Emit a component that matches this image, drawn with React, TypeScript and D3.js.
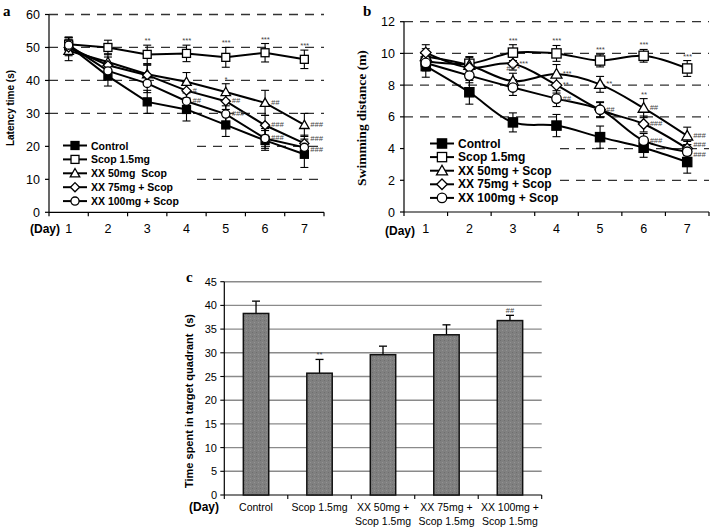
import React from "react";
import * as d3 from "d3";

// ---------- DATA ----------
const days = [1, 2, 3, 4, 5, 6, 7];
const legendA = ["Control", "Scop 1.5mg", "XX 50mg  Scop", "XX 75mg + Scop", "XX 100mg + Scop"];
const legendB = ["Control", "Scop 1.5mg", "XX 50mg + Scop", "XX 75mg + Scop", "XX 100mg + Scop"];
const markerTypes = ["squareFilled", "square", "triangle", "diamond", "circle"];

// Panel a: latency time (s)
const latControl = [50.5, 41.3, 33.5, 31.2, 26.5, 21.8, 17.6];
const latScop = [51.0, 50.0, 47.9, 48.2, 47.0, 48.4, 46.4];
const latXX50 = [49.0, 45.6, 41.9, 39.6, 36.5, 33.2, 26.5];
const latXX75 = [50.0, 44.6, 41.6, 36.9, 33.7, 26.4, 20.9];
const latXX100 = [50.7, 42.9, 39.1, 33.7, 29.8, 22.4, 19.7];
const latErrControl = [2.5, 3, 3.5, 3.5, 3.5, 3, 4];
const latErrScop = [2, 2.2, 2.8, 2.5, 3, 2.8, 2.8];
const latErrXX50 = [3, 2.5, 3, 2.8, 2.5, 3.8, 3.5];
const latErrXX75 = [2.5, 2.5, 3, 2.5, 2.5, 3, 2.5];
const latErrXX100 = [2.5, 2.5, 2.8, 2.5, 2.5, 3, 2.5];
const latTicks = [0, 10, 20, 30, 40, 50, 60];

// Panel b: swimming distance (m)
const disControl = [9.2, 7.55, 5.65, 5.45, 4.72, 4.05, 3.15];
const disScop = [9.5, 9.35, 10.05, 10.0, 9.55, 9.85, 9.05];
const disXX50 = [9.8, 9.25, 8.25, 8.7, 8.05, 6.55, 4.8];
const disXX75 = [10.05, 9.1, 9.35, 8.0, 6.45, 5.55, 4.0];
const disXX100 = [9.4, 8.6, 7.85, 7.15, 6.45, 4.5, 3.8];
const disErrControl = [0.7, 0.75, 0.6, 0.7, 0.7, 0.6, 0.7];
const disErrScop = [0.5, 0.45, 0.5, 0.5, 0.4, 0.4, 0.5];
const disErrXX50 = [0.5, 0.5, 0.5, 0.6, 0.5, 0.6, 0.55];
const disErrXX75 = [0.5, 0.45, 0.4, 0.5, 0.45, 0.5, 0.45];
const disErrXX100 = [0.5, 0.45, 0.5, 0.5, 0.5, 0.45, 0.45];
const disTicks = [0, 2, 4, 6, 8, 10, 12];

// Significance marks: [seriesIndex, day, text, placement]
const sigA: [number, number, string, string][] = [
  [1, 3, "**", "above"], [1, 4, "***", "above"], [1, 5, "***", "above"], [1, 6, "***", "above"], [1, 7, "***", "above"],
  [2, 5, "*", "above"], [2, 6, "##", "right"], [2, 7, "###", "right"],
  [3, 4, "#", "right"], [3, 5, "##", "right"], [3, 6, "###", "right"], [3, 7, "###", "rightUp"],
  [4, 4, "##", "right"], [4, 5, "###", "right"], [4, 6, "###", "right"], [4, 7, "###", "rightDown"],
];
const sigB: [number, number, string, string][] = [
  [1, 3, "***", "above"], [1, 4, "***", "above"], [1, 5, "***", "above"], [1, 6, "***", "above"], [1, 7, "***", "above"],
  [3, 3, "***", "right"], [2, 3, "##,*", "above"],
  [2, 4, "***", "right"], [3, 4, "**", "right"], [4, 4, "##", "right"],
  [2, 5, "**", "right"], [4, 5, "##", "right"],
  [2, 6, "**", "above"], [2, 6, "##", "right"], [3, 6, "###", "right"], [4, 6, "###", "right"],
  [2, 7, "###", "right"], [3, 7, "###", "rightUp"], [4, 7, "###", "rightDown"],
];

// Panel c: time in target quadrant (s)
const groupsC = [["Control"], ["Scop 1.5mg"], ["XX 50mg +", "Scop 1.5mg"], ["XX 75mg +", "Scop 1.5mg"], ["XX 100mg +", "Scop 1.5mg"]];
const valuesC = [38.3, 25.7, 29.6, 33.8, 36.8];
const errorsC = [2.6, 2.9, 1.8, 2.1, 1.1];
const sigC = ["", "**", "", "", "##"];
const ticksC = [0, 5, 10, 15, 20, 25, 30, 35, 40, 45];

const SANS = "Arial, 'Liberation Sans', sans-serif";
const SERIF = "'Times New Roman', 'Liberation Serif', serif";

function Marker({ type, x, y, s = 1 }: { type: string; x: number; y: number; s?: number }) {
  const sw = 1.3;
  if (type === "squareFilled") {
    const h = 4.2 * s;
    return <rect x={x - h} y={y - h} width={2 * h} height={2 * h} fill="#000" stroke="#000" strokeWidth={sw} />;
  }
  if (type === "square") {
    const h = 4.2 * s;
    return <rect x={x - h} y={y - h} width={2 * h} height={2 * h} fill="#fff" stroke="#000" strokeWidth={sw} />;
  }
  if (type === "triangle") {
    const h = 5 * s;
    return <path d={`M${x},${y - h}L${x + h},${y + h * 0.75}L${x - h},${y + h * 0.75}Z`} fill="#fff" stroke="#000" strokeWidth={sw} />;
  }
  if (type === "diamond") {
    const h = 4.8 * s;
    return <path d={`M${x},${y - h}L${x + h},${y}L${x},${y + h}L${x - h},${y}Z`} fill="#fff" stroke="#000" strokeWidth={sw} />;
  }
  return <circle cx={x} cy={y} r={4.3 * s} fill="#fff" stroke="#000" strokeWidth={sw} />;
}

function LinePanel(props: {
  x0: number; x1: number; yTop: number; yBottom: number; domainMax: number; ticks: number[];
  series: number[][]; errors: number[][]; sig: [number, number, string, string][];
  fullGrid: number[]; partGrid: number[]; partStart: number; smooth: boolean; legend: string[];
  legX: number; legY: number; legStep: number; legFont: number; mScale: number;
  tickLabelX: number; dayY: number;
}) {
  const { x0, x1, yTop, yBottom, domainMax, ticks, series, errors, sig, fullGrid, partGrid, partStart, smooth, legend, legX, legY, legStep, legFont, mScale, tickLabelX, dayY } = props;
  const x = d3.scaleBand<number>().domain(days).range([x0, x1]);
  const y = d3.scaleLinear().domain([0, domainMax]).range([yBottom, yTop]);
  const cx = (d: number) => (x(d) as number) + x.bandwidth() / 2;
  const line = d3.line<number>().x((_, i) => cx(days[i])).y((v) => y(v)).curve(smooth ? d3.curveCatmullRom.alpha(0.5) : d3.curveLinear);
  const bounds = d3.range(days.length + 1).map((i) => x0 + i * x.bandwidth());
  return (
    <g>
      {fullGrid.map((g) => (
        <line key={"fg" + g} x1={x0} x2={x1} y1={y(g)} y2={y(g)} stroke="#333" strokeWidth={1.3} strokeDasharray="9,7" />
      ))}
      {partGrid.map((g) => (
        <line key={"pg" + g} x1={partStart} x2={x1} y1={y(g)} y2={y(g)} stroke="#333" strokeWidth={1.3} strokeDasharray="9,7" />
      ))}
      {/* axes */}
      <line x1={x0} x2={x0} y1={yTop} y2={yBottom} stroke="#000" strokeWidth={1.2} />
      <line x1={x0} x2={x1} y1={yBottom} y2={yBottom} stroke="#000" strokeWidth={1.2} />
      {ticks.map((t) => (
        <g key={"yt" + t}>
          <line x1={x0 - 4} x2={x0} y1={y(t)} y2={y(t)} stroke="#000" strokeWidth={1.2} />
          <text x={tickLabelX} y={y(t) + 4.5} textAnchor="end" fontFamily={SANS} fontSize={12.5}>{t}</text>
        </g>
      ))}
      {bounds.map((b, i) => (
        <line key={"xt" + i} x1={b} x2={b} y1={yBottom} y2={yBottom + 4} stroke="#000" strokeWidth={1.2} />
      ))}
      {days.map((d) => (
        <text key={"xl" + d} x={cx(d)} y={dayY} textAnchor="middle" fontFamily={SANS} fontSize={12.5}>{d}</text>
      ))}
      {/* error bars */}
      {series.map((s, si) =>
        s.map((v, i) => {
          const e = errors[si][i];
          const px = cx(days[i]);
          return (
            <g key={"e" + si + "_" + i} stroke="#000" strokeWidth={1.1}>
              <line x1={px} x2={px} y1={y(v - e)} y2={y(v + e)} />
              <line x1={px - 4} x2={px + 4} y1={y(v - e)} y2={y(v - e)} />
              <line x1={px - 4} x2={px + 4} y1={y(v + e)} y2={y(v + e)} />
            </g>
          );
        })
      )}
      {series.map((s, si) => (
        <path key={"l" + si} d={line(s) || ""} fill="none" stroke="#000" strokeWidth={2} />
      ))}
      {series.map((s, si) =>
        s.map((v, i) => <Marker key={"m" + si + "_" + i} type={markerTypes[si]} x={cx(days[i])} y={y(v)} s={mScale} />)
      )}
      {sig.map(([si, d, t, p], k) => {
        const i = days.indexOf(d);
        const v = series[si][i];
        const px = cx(d);
        if (p === "above") {
          return (
            <text key={"s" + k} x={px} y={y(v + errors[si][i]) - 2} textAnchor="middle" fontFamily={SANS} fontSize={7.5} fontStyle="italic" fill="#444">{t}</text>
          );
        }
        const dy = p === "rightUp" ? -2 : p === "rightDown" ? 5 : 2;
        return (
          <text key={"s" + k} x={px + 6} y={y(v) + dy} textAnchor="start" fontFamily={SANS} fontSize={7.5} fontStyle="italic" fill="#444">{t}</text>
        );
      })}
      {/* legend */}
      {legend.map((name, i) => {
        const ly = legY + i * legStep;
        return (
          <g key={"lg" + i}>
            <line x1={legX} x2={legX + 24} y1={ly} y2={ly} stroke="#000" strokeWidth={2} />
            <Marker type={markerTypes[i]} x={legX + 12} y={ly} s={mScale} />
            <text x={legX + 28} y={ly + 4} fontFamily={SANS} fontWeight="bold" fontSize={legFont} xmlSpace="preserve" style={{ whiteSpace: "pre" }}>{name}</text>
          </g>
        );
      })}
    </g>
  );
}

function BarPanel() {
  const x0 = 224.3, x1 = 541.7, yTop = 281.7, yBottom = 495;
  const idx = groupsC.map((_, i) => i);
  const x = d3.scaleBand<number>().domain(idx).range([x0, x1]).paddingInner(0.6).paddingOuter(0.3);
  const xb = d3.scaleBand<number>().domain(idx).range([x0, x1]);
  const y = d3.scaleLinear().domain([0, 45]).range([yBottom, yTop]);
  const bounds = d3.range(idx.length + 1).map((i) => x0 + i * xb.bandwidth());
  return (
    <g>
      <defs>
        <pattern id="grain" width="4" height="4" patternUnits="userSpaceOnUse">
          <rect width="4" height="4" fill="#808080" />
          <rect x="0" y="0" width="1" height="1" fill="#6e6e6e" />
          <rect x="2" y="2" width="1" height="1" fill="#939393" />
        </pattern>
      </defs>
      {ticksC.filter((t) => t > 0).map((t) => (
        <line key={"g" + t} x1={x0} x2={x1} y1={y(t)} y2={y(t)} stroke="#8a8a8a" strokeWidth={1.4} />
      ))}
      <line x1={x0} x2={x0} y1={yTop} y2={yBottom} stroke="#000" strokeWidth={1.2} />
      <line x1={x0} x2={x1} y1={yBottom} y2={yBottom} stroke="#000" strokeWidth={1.2} />
      {ticksC.map((t) => (
        <g key={"yt" + t}>
          <line x1={x0 - 4} x2={x0} y1={y(t)} y2={y(t)} stroke="#000" strokeWidth={1.1} />
          <text x={217} y={y(t) + 4} textAnchor="end" fontFamily={SANS} fontSize={11}>{t}</text>
        </g>
      ))}
      {bounds.map((b, i) => (
        <line key={"xt" + i} x1={b} x2={b} y1={yBottom} y2={yBottom + 4} stroke="#000" strokeWidth={1.1} />
      ))}
      {idx.map((i) => {
        const bx = x(i) as number;
        const w = x.bandwidth();
        const v = valuesC[i];
        const c = bx + w / 2;
        const top = y(v + errorsC[i]);
        return (
          <g key={"b" + i}>
            <line x1={c} x2={c} y1={y(v)} y2={top} stroke="#000" strokeWidth={1.3} />
            <line x1={c - 4} x2={c + 4} y1={top} y2={top} stroke="#000" strokeWidth={1.3} />
            <rect x={bx} y={y(v)} width={w} height={yBottom - y(v)} fill="url(#grain)" stroke="#111" strokeWidth={1.5} />
            {sigC[i] && (
              <text x={c} y={top - 2} textAnchor="middle" fontFamily={SANS} fontSize={7.5} fill="#444">{sigC[i]}</text>
            )}
          </g>
        );
      })}
      {groupsC.map((lines, i) => {
        const c = (xb(i) as number) + xb.bandwidth() / 2;
        return (
          <text key={"xl" + i} textAnchor="middle" fontFamily={SANS} fontSize={10.5}>
            {lines.map((l, j) => (
              <tspan key={j} x={c} y={511 + j * 14}>{l}</tspan>
            ))}
          </text>
        );
      })}
      <text x={204} y={511} fontFamily={SANS} fontWeight="bold" fontSize={12} textAnchor="middle">(Day)</text>
      <text transform="translate(193,401) rotate(-90)" textAnchor="middle" fontFamily={SANS} fontWeight="bold" fontSize={11} xmlSpace="preserve" style={{ whiteSpace: "pre" }}>Time spent in target quadrant  (s)</text>
      <text x={186} y={282} fontFamily={SERIF} fontWeight="bold" fontSize={15}>c</text>
    </g>
  );
}

export default function App() {
  return (
    <svg width={710} height={530} viewBox="0 0 710 530" style={{ position: "absolute", left: 0, top: 0, background: "#fff" }}>
      <rect width={710} height={530} fill="#fff" />
      {/* Panel a */}
      <text x={3} y={16} fontFamily={SERIF} fontWeight="bold" fontSize={15}>a</text>
      <text transform="translate(14,108) rotate(-90)" textAnchor="middle" fontFamily={SANS} fontWeight="bold" fontSize={10}>Latency time (s)</text>
      <text x={45} y={233} textAnchor="middle" fontFamily={SANS} fontWeight="bold" fontSize={12}>(Day)</text>
      <LinePanel
        x0={49} x1={324} yTop={14.5} yBottom={212.3} domainMax={60} ticks={latTicks}
        series={[latControl, latScop, latXX50, latXX75, latXX100]}
        errors={[latErrControl, latErrScop, latErrXX50, latErrXX75, latErrXX100]}
        sig={sigA} fullGrid={[30, 40, 50, 60]} partGrid={[10, 20]} partStart={197} smooth={false}
        legend={legendA} legX={63} legY={145.5} legStep={13.9} legFont={10.5} mScale={0.95}
        tickLabelX={40} dayY={233}
      />
      {/* Panel b */}
      <text x={363} y={16} fontFamily={SERIF} fontWeight="bold" fontSize={15}>b</text>
      <text transform="translate(366,118) rotate(-90)" textAnchor="middle" fontFamily={SERIF} fontWeight="bold" fontSize={13.5}>Swimming distance (m)</text>
      <text x={400} y={235} textAnchor="middle" fontFamily={SANS} fontWeight="bold" fontSize={12}>(Day)</text>
      <LinePanel
        x0={404} x1={709} yTop={21.7} yBottom={212} domainMax={12} ticks={disTicks}
        series={[disControl, disScop, disXX50, disXX75, disXX100]}
        errors={[disErrControl, disErrScop, disErrXX50, disErrXX75, disErrXX100]}
        sig={sigB} fullGrid={[6, 8, 10, 12]} partGrid={[2, 4]} partStart={560} smooth={true}
        legend={legendB} legX={430} legY={143.5} legStep={13.6} legFont={12} mScale={1.1}
        tickLabelX={395} dayY={233}
      />
      <BarPanel />
    </svg>
  );
}
